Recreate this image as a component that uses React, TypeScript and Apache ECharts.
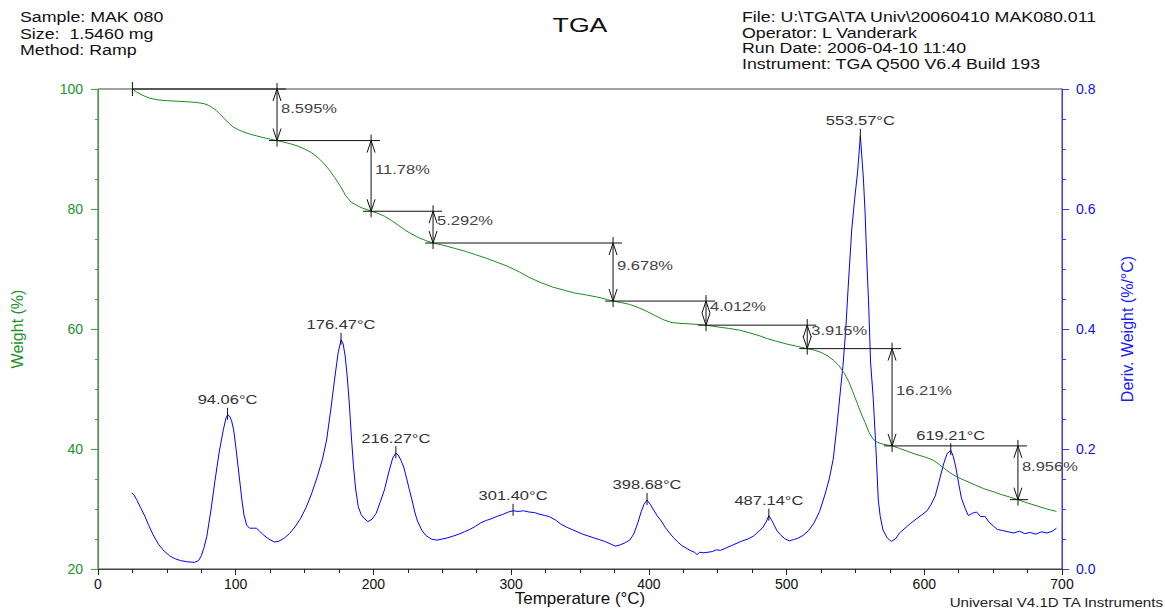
import React, { useEffect, useRef } from 'react';
import * as echarts from 'echarts';

const FONT = '"Liberation Sans", Arial, Helvetica, sans-serif';
const GREEN = '#1c8c1c';
const GREEN_AXIS = '#3aa63a';
const GREEN_LABEL = '#23922a';
const BLUE = '#0000ff';
const BLUE_AXIS = '#3a3aff';
const SX = 1.27;

const headerLeft = ['Sample: MAK 080', 'Size:  1.5460 mg', 'Method: Ramp'];
const headerRight = [
  'File: U:\\TGA\\TA Univ\\20060410 MAK080.011',
  'Operator: L Vanderark',
  'Run Date: 2006-04-10 11:40',
  'Instrument: TGA Q500 V6.4 Build 193',
];
const chartTitle = 'TGA';
const footerText = 'Universal V4.1D TA Instruments';

// Weight (%) curve
const weightTemps = [
  25, 28, 32, 37, 43, 50, 58, 66, 72, 77, 80, 83, 86, 89, 92, 95, 98, 101, 105, 110,
  115, 120, 125, 130, 135, 140, 145, 150, 155, 160, 164, 168, 172, 176, 180, 184, 188, 190, 192, 196,
  198.3, 203, 208, 213, 218, 223, 228, 233, 238, 243.3, 250, 258, 266, 274, 282, 290, 298, 306, 314, 322,
  330, 338, 346, 354, 362, 370, 374, 380, 386, 392, 398, 404, 410, 416, 422, 430, 436, 441.5, 450, 458,
  466, 474, 480, 486, 492, 500, 508, 515, 520, 525, 530, 534, 538, 542, 545, 548, 551, 554, 557, 560,
  563, 566, 570, 576.6, 582, 588, 594, 600, 606, 611, 616, 621, 626, 631, 637, 643, 650, 656, 662, 668,
  675, 682, 689, 696,
];
const weightValues = [
  100, 99.5, 99.0, 98.5, 98.2, 98.05, 97.95, 97.85, 97.75, 97.55, 97.3, 96.9, 96.4, 95.7, 95.0, 94.3, 93.7, 93.3, 92.9, 92.5,
  92.2, 91.9, 91.65, 91.4, 91.15, 90.85, 90.5, 90.0, 89.4, 88.5, 87.6, 86.5, 85.2, 83.8, 82.2, 81.1, 80.6, 80.35, 80.15, 79.85,
  79.63, 79.3, 78.8, 78.1, 77.3, 76.5, 75.8, 75.2, 74.75, 74.33, 74.0, 73.5, 73.0, 72.4, 71.8, 71.1, 70.4, 69.5, 68.5, 67.7,
  67.0, 66.5, 66.0, 65.7, 65.35, 64.9, 64.66, 64.4, 64.1, 63.6, 63.0, 62.3, 61.6, 61.1, 60.95, 60.85, 60.75, 60.64, 60.35, 60.1,
  59.8, 59.3, 58.9, 58.4, 58.0, 57.5, 57.1, 56.73, 56.5, 56.1, 55.5, 54.8, 53.9, 52.6, 51.3, 49.6, 47.8, 46.0, 44.4, 42.7,
  41.6, 41.1, 40.8, 40.52, 40.1, 39.6, 39.1, 38.7, 38.2, 37.4, 36.5, 35.7, 35.1, 34.6, 34.0, 33.4, 32.9, 32.4, 32.0, 31.56,
  31.0, 30.5, 30.0, 29.6,
];

// Derivative weight (%/°C) curve
const derivTemps = [
  24.5, 26, 28, 31, 34, 37, 40, 44, 48, 52, 56, 60, 65, 70, 73, 75, 77, 79, 82, 85,
  88, 91, 93, 94.1, 95.5, 97, 98.5, 100, 101.5, 103, 104.5, 106, 108, 110, 113, 115, 117, 120, 124, 128,
  131, 135, 139, 143, 147, 151, 155, 159, 163, 166, 169, 172, 174.5, 176.5, 178, 179.5, 181, 182.5, 184, 185.5,
  187, 189, 191, 193, 196, 199, 202, 205, 208, 211, 214, 216.3, 218, 220, 222, 224, 226, 228, 230, 232,
  235, 238, 242, 246, 250, 254, 258, 262, 266, 270, 274, 278, 282, 286, 290, 294, 298, 301.4, 305, 309,
  313, 317, 321, 325, 328, 332, 336, 340, 344, 348, 352, 356, 360, 364, 368, 372, 375.5, 379, 383, 386,
  389, 392, 394.5, 396.5, 398.7, 401, 403.5, 406, 409, 412, 415, 418, 421, 424, 427, 430, 433, 435, 437, 440,
  443, 446, 449, 452, 456, 460, 464, 468, 472, 476, 480, 483, 485.5, 487.1, 489, 491, 493, 496, 499, 502,
  505, 508, 512, 516, 520, 524, 528, 531, 534, 536.5, 539, 541, 543, 545, 547.3, 549.5, 551.5, 553.6, 555.8, 557,
  558.5, 559.5, 561, 563, 565, 566.6, 568, 570, 573, 576, 579, 582, 586, 590, 594, 598, 602, 605, 608, 611,
  614, 616.5, 619.2, 621, 623, 625, 627, 629.5, 632, 635, 638, 641, 644, 647, 650, 653, 657, 661, 665, 669,
  673, 677, 681, 685, 689, 693, 696,
];
const derivValues = [
  0.127, 0.124, 0.116, 0.102, 0.088, 0.072, 0.057, 0.041, 0.030, 0.022, 0.017, 0.014, 0.012, 0.011, 0.014, 0.022, 0.036, 0.054, 0.098, 0.148,
  0.195, 0.232, 0.252, 0.257, 0.255, 0.247, 0.232, 0.205, 0.175, 0.145, 0.115, 0.090, 0.073, 0.068, 0.068, 0.068, 0.064, 0.057, 0.050, 0.045,
  0.046, 0.051, 0.059, 0.070, 0.084, 0.102, 0.125, 0.152, 0.183, 0.215, 0.265, 0.320, 0.362, 0.382, 0.375, 0.355, 0.320, 0.275, 0.220, 0.172,
  0.135, 0.104, 0.091, 0.085, 0.079, 0.083, 0.093, 0.112, 0.132, 0.160, 0.185, 0.193, 0.190, 0.181, 0.170, 0.152, 0.133, 0.115, 0.095, 0.080,
  0.065, 0.056, 0.050, 0.048, 0.050, 0.052, 0.055, 0.058, 0.062, 0.066, 0.071, 0.077, 0.081, 0.084, 0.088, 0.091, 0.095, 0.097, 0.096, 0.097,
  0.095, 0.094, 0.091, 0.089, 0.087, 0.082, 0.075, 0.070, 0.066, 0.062, 0.058, 0.055, 0.052, 0.049, 0.046, 0.042, 0.038, 0.040, 0.044, 0.048,
  0.058, 0.077, 0.096, 0.108, 0.115, 0.108, 0.098, 0.089, 0.080, 0.069, 0.060, 0.052, 0.045, 0.039, 0.035, 0.031, 0.028, 0.024, 0.028, 0.027,
  0.028, 0.029, 0.032, 0.031, 0.035, 0.039, 0.043, 0.047, 0.050, 0.055, 0.063, 0.070, 0.080, 0.089, 0.082, 0.073, 0.064, 0.056, 0.050, 0.047,
  0.049, 0.051, 0.056, 0.064, 0.077, 0.096, 0.125, 0.150, 0.185, 0.237, 0.295, 0.340, 0.400, 0.480, 0.565, 0.618, 0.660, 0.722, 0.650, 0.595,
  0.500, 0.448, 0.345, 0.282, 0.195, 0.115, 0.088, 0.065, 0.052, 0.046, 0.050, 0.060, 0.068, 0.076, 0.083, 0.090, 0.097, 0.108, 0.122, 0.148,
  0.175, 0.192, 0.198, 0.188, 0.168, 0.142, 0.118, 0.102, 0.089, 0.093, 0.095, 0.087, 0.088, 0.078, 0.072, 0.066, 0.064, 0.062, 0.060, 0.063,
  0.059, 0.061, 0.058, 0.062, 0.060, 0.063, 0.068,
];

// Step-change annotations (weight loss)
const stepTemps = [25, 130, 198.3, 243.3, 374, 441.5, 515, 576.6, 668];
const stepWeights = [100, 91.405, 79.625, 74.333, 64.655, 60.643, 56.728, 40.518, 31.562];
const stepLosses = ['8.595%', '11.78%', '5.292%', '9.678%', '4.012%', '3.915%', '16.21%', '8.956%'];

// Derivative peak annotations
const peakTemps = [94.06, 176.47, 216.27, 301.4, 398.68, 487.14, 553.57, 619.21];
const peakDerivs = [0.257, 0.382, 0.193, 0.097, 0.115, 0.089, 0.722, 0.198];
const peakLabels = ['94.06°C', '176.47°C', '216.27°C', '301.40°C', '398.68°C', '487.14°C', '553.57°C', '619.21°C'];

const zip = (a: number[], b: number[]) => a.map((v, i) => [v, b[i]]);

function textEl(x: number, y: number, text: string, size: number, fill: string, align: string, scale = SX) {
  return {
    type: 'text',
    x,
    y,
    scaleX: scale,
    style: {
      text,
      font: `${size}px ${FONT}`,
      fill,
      align,
      verticalAlign: 'middle',
      textAlign: align,
      textVerticalAlign: 'middle',
    },
  };
}

export default function App() {
  const ref = useRef<HTMLDivElement>(null);

  useEffect(() => {
    if (!ref.current) return;
    const chart = echarts.init(ref.current, null, { renderer: 'svg' });

    const graphics: any[] = [];
    headerLeft.forEach((t, i) => graphics.push(textEl(20, 17.5 + i * 16.2, t, 14, '#111', 'left')));
    headerRight.forEach((t, i) => graphics.push(textEl(742, 17.5 + i * 15.5, t, 14, '#111', 'left')));
    graphics.push(textEl(580, 25, chartTitle, 21, '#111', 'center'));
    graphics.push(textEl(1163, 603, footerText, 12, '#222', 'right', 1.26));

    const stepData = stepLosses.map((_, i) => [stepTemps[i], stepWeights[i], stepTemps[i + 1], stepWeights[i + 1], i]);
    const peakData = zip(peakTemps, peakDerivs);
    const ink = { stroke: '#111', lineWidth: 1, fill: null };

    const option: any = {
      animation: false,
      backgroundColor: '#fff',
      grid: {
        left: 98,
        right: 103,
        top: 89,
        bottom: 43,
        show: true,
        borderColor: '#444',
        borderWidth: 1,
        backgroundColor: 'transparent',
        containLabel: false,
        outerBoundsMode: 'none',
      },
      graphic: graphics,
      xAxis: {
        type: 'value',
        min: 0,
        max: 700,
        interval: 100,
        name: 'Temperature (°C)',
        nameLocation: 'middle',
        nameGap: 21,
        nameMoveOverlap: false,
        nameTextStyle: { fontSize: 17, color: '#111', fontFamily: FONT },
        axisLine: { show: true, lineStyle: { color: '#444', width: 1 } },
        axisTick: { show: true, length: 6, lineStyle: { color: '#222' } },
        minorTick: { show: true, splitNumber: 4, length: 4, lineStyle: { color: '#222' } },
        axisLabel: { margin: 8, fontSize: 14, color: '#111', fontFamily: FONT },
        splitLine: { show: false },
        minorSplitLine: { show: false },
      },
      yAxis: [
        {
          type: 'value',
          position: 'left',
          min: 20,
          max: 100,
          interval: 20,
          name: 'Weight (%)',
          nameLocation: 'middle',
          nameRotate: 90,
          nameGap: 73,
          nameMoveOverlap: false,
          nameTextStyle: { fontSize: 16, color: GREEN_LABEL, fontFamily: FONT },
          axisLine: { show: true, lineStyle: { color: GREEN_AXIS, width: 1 } },
          axisTick: { show: true, length: 7, lineStyle: { color: GREEN_AXIS } },
          minorTick: { show: true, splitNumber: 4, length: 3, lineStyle: { color: GREEN_AXIS } },
          axisLabel: { margin: 15, fontSize: 14, color: GREEN_LABEL, fontFamily: FONT },
          splitLine: { show: false },
        },
        {
          type: 'value',
          position: 'right',
          min: 0,
          max: 0.8,
          interval: 0.2,
          name: 'Deriv. Weight (%/°C)',
          nameLocation: 'middle',
          nameRotate: 90,
          nameGap: 57,
          nameMoveOverlap: false,
          nameTextStyle: { fontSize: 16, color: '#1a1aff', fontFamily: FONT },
          axisLine: { show: true, lineStyle: { color: BLUE_AXIS, width: 1 } },
          axisTick: { show: true, length: 7, lineStyle: { color: BLUE_AXIS } },
          minorTick: { show: true, splitNumber: 4, length: 4, lineStyle: { color: BLUE_AXIS } },
          axisLabel: {
            margin: 14,
            fontSize: 14,
            color: '#1010ee',
            fontFamily: FONT,
            formatter: (v: number) => v.toFixed(1),
          },
          splitLine: { show: false },
        },
      ],
      series: [
        {
          type: 'line',
          name: 'Deriv. Weight',
          yAxisIndex: 1,
          data: zip(derivTemps, derivValues),
          showSymbol: false,
          symbol: 'none',
          lineStyle: { color: BLUE, width: 1 },
          z: 2,
        },
        {
          type: 'line',
          name: 'Weight',
          yAxisIndex: 0,
          data: zip(weightTemps, weightValues),
          showSymbol: false,
          symbol: 'none',
          lineStyle: { color: GREEN, width: 1 },
          z: 3,
        },
        {
          type: 'custom',
          name: 'Weight steps',
          yAxisIndex: 0,
          z: 5,
          silent: true,
          data: stepData,
          renderItem: (params: any, api: any) => {
            const i = api.value(4);
            const a = api.coord([api.value(0), api.value(1)]);
            const top = api.coord([api.value(2), api.value(1)]);
            const bot = api.coord([api.value(2), api.value(3)]);
            const x = top[0];
            const children: any[] = [
              { type: 'line', shape: { x1: i === 0 ? a[0] : a[0] - 8, y1: top[1], x2: x + 9, y2: top[1] }, style: ink },
              { type: 'line', shape: { x1: x, y1: top[1] - 6, x2: x, y2: bot[1] + 6 }, style: ink },
              { type: 'polyline', shape: { points: [[x - 4, top[1] + 12], [x, top[1]], [x + 4, top[1] + 12]] }, style: ink },
              { type: 'polyline', shape: { points: [[x - 4, bot[1] - 12], [x, bot[1]], [x + 4, bot[1] - 12]] }, style: ink },
              textEl(x + 4, (top[1] + bot[1]) / 2 - 6.5, stepLosses[i], 13, '#444', 'left'),
            ];
            if (i === 0) {
              children.push({ type: 'line', shape: { x1: a[0], y1: a[1] - 7, x2: a[0], y2: a[1] + 7 }, style: ink });
            }
            if (i === stepLosses.length - 1) {
              children.push({ type: 'line', shape: { x1: x - 8, y1: bot[1], x2: x + 10, y2: bot[1] }, style: ink });
            }
            return { type: 'group', children };
          },
        },
        {
          type: 'custom',
          name: 'Peaks',
          yAxisIndex: 1,
          z: 5,
          silent: true,
          data: peakData,
          renderItem: (params: any, api: any) => {
            const i = params.dataIndex;
            const p = api.coord([api.value(0), api.value(1)]);
            return {
              type: 'group',
              children: [
                { type: 'line', shape: { x1: p[0], y1: p[1] - 7, x2: p[0], y2: p[1] + 5 }, style: ink },
                textEl(p[0], p[1] - 15, peakLabels[i], 13, '#333', 'center'),
              ],
            };
          },
        },
      ],
    };

    chart.setOption(option);
    return () => chart.dispose();
  }, []);

  return <div ref={ref} style={{ position: 'absolute', left: 0, top: 0, width: 1165, height: 612 }} />;
}
